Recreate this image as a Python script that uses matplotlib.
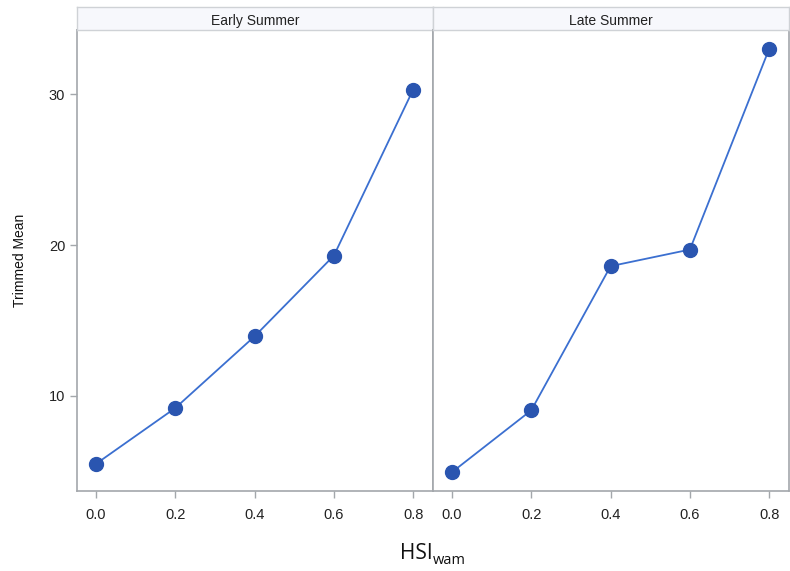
import matplotlib
matplotlib.use("Agg")
import matplotlib.pyplot as plt

hsi = [0.0, 0.2, 0.4, 0.6, 0.8]
early_summer = [5.5, 9.2, 13.95, 19.3, 30.3]
late_summer = [4.95, 9.05, 18.6, 19.7, 33.0]
panels = ["Early Summer", "Late Summer"]
y_ticks = [10, 20, 30]
x_ticks = [0.0, 0.2, 0.4, 0.6, 0.8]

LINE = "#3b6fd0"
MARK = "#2a55b0"
FRAME = "#a3a7ab"

fig = plt.figure(figsize=(7.9, 5.71), dpi=100)
plt.rcParams["font.family"] = ["Liberation Sans", "DejaVu Sans"]

left0 = 77 / 790
width = 356 / 790
bottom = 1 - 491 / 571
height = (491 - 30) / 571
head_h = 23 / 571

for i, (name, vals) in enumerate(zip(panels, [early_summer, late_summer])):
    x0 = left0 + i * width
    ax = fig.add_axes([x0, bottom, width, height])
    ax.plot(hsi, vals, color=LINE, lw=1.3, zorder=2)
    ax.plot(hsi, vals, "o", color=MARK, ms=10, zorder=3)
    ax.set_xlim(-0.048, 0.85)
    ax.set_ylim(3.7, 34.25)
    ax.set_xticks(x_ticks)
    ax.set_xticklabels([f"{v:.1f}" for v in x_ticks])
    ax.set_yticks(y_ticks)
    for s in ax.spines.values():
        s.set_color(FRAME)
        s.set_linewidth(1.2)
    ax.tick_params(axis="both", colors=FRAME, labelcolor="#222222",
                   labelsize=10.5, length=5, width=1)
    ax.tick_params(axis="x", pad=7)
    if i == 0:
        ax.set_ylabel("Trimmed Mean", fontsize=10, color="#111111",
                      fontstretch="condensed", labelpad=16)
    else:
        ax.tick_params(axis="y", left=False, labelleft=False)

    hax = fig.add_axes([x0, bottom + height, width, head_h])
    hax.set_facecolor("#f7f8fc")
    hax.set_xticks([])
    hax.set_yticks([])
    for s in hax.spines.values():
        s.set_color("#cfd2d6")
        s.set_linewidth(1.0)
    hax.text(0.5, 0.45, name, ha="center", va="center_baseline", fontsize=10,
             color="#222222", transform=hax.transAxes)

# x-axis title: HSI with subscript "wam", drawn as two pieces
fig.text(433 / 790, 1 - 559 / 571, "HSI", ha="right", va="baseline",
         fontsize=15, color="#111111", family="Open Sans")
fig.text(433 / 790, 1 - 564 / 571, "wam", ha="left", va="baseline",
         fontsize=10.5, color="#111111", family="Open Sans")

fig.savefig("out.png", dpi=100)
